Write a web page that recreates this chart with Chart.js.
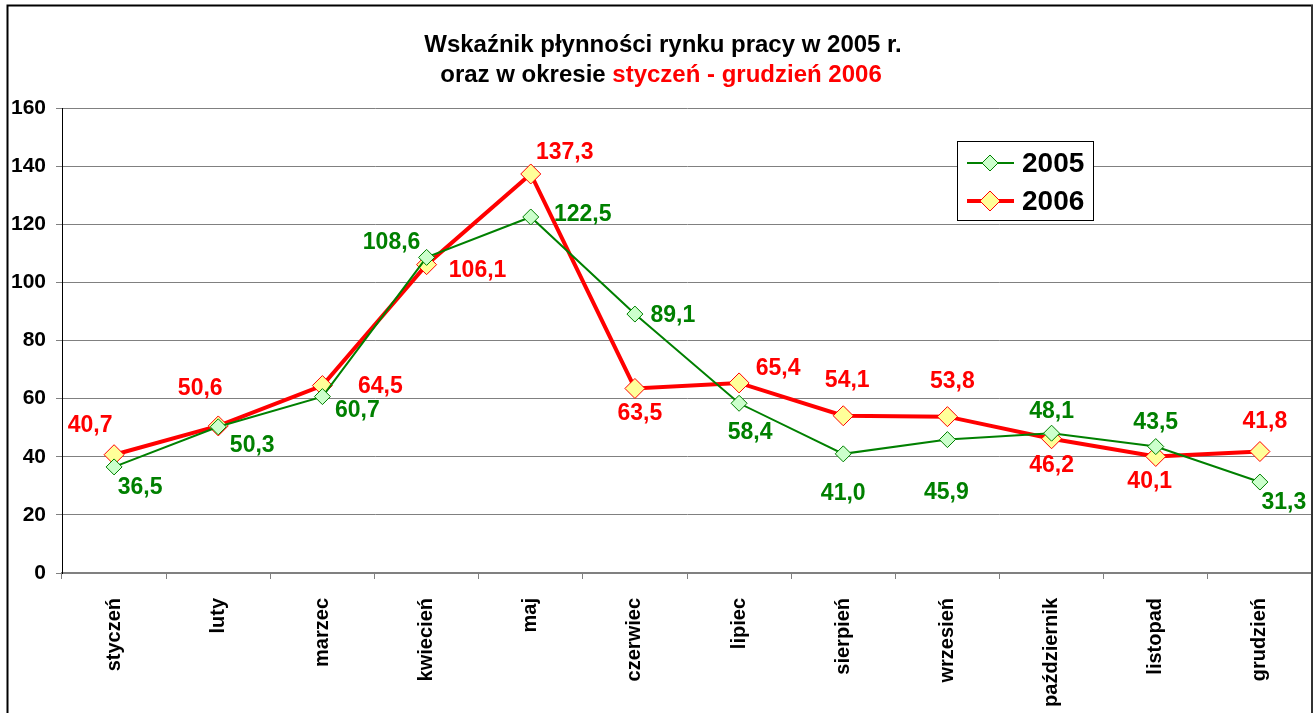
<!DOCTYPE html>
<html><head><meta charset="utf-8">
<script src="https://cdn.jsdelivr.net/npm/chart.js@4.4.0/dist/chart.umd.min.js"></script>
<style>html,body{margin:0;padding:0;background:#fff}#wrap{width:1314px;height:713px;position:relative}</style>
</head><body><div id="wrap"><canvas id="c" width="1314" height="713"></canvas></div>
<script>
const categories = ['styczeń','luty','marzec','kwiecień','maj','czerwiec','lipiec','sierpień','wrzesień','październik','listopad','grudzień'];
const values2005 = [36.5,50.3,60.7,108.6,122.5,89.1,58.4,41.0,45.9,48.1,43.5,31.3];
const values2006 = [40.7,50.6,64.5,106.1,137.3,63.5,65.4,54.1,53.8,46.2,40.1,41.8];
const yTicks = [0,20,40,60,80,100,120,140,160];
// label offsets (dx, dy) from the point, in px
const off2005 = [[26,21],[34,19],[35,14],[-35,-15],[52,-2],[38,2],[11,29],[0,40],[-1,53],[0,-22],[0,-24],[24,21]];
const off2006 = [[-24,-29],[-18,-37],[58,1],[51,6],[34,-21],[5,25],[39,-14],[4,-35],[5,-35],[0,27],[-6,25],[5,-30]];
const FONT = '"Liberation Sans", Arial, sans-serif';

const outer = {
  id:'outer',
  beforeDraw(ch){
    const c=ch.ctx; c.save();
    c.fillStyle='#fff'; c.fillRect(0,0,ch.width,ch.height);
    c.strokeStyle='#000'; c.lineWidth=2;
    c.beginPath(); c.moveTo(7.5,713); c.lineTo(7.5,5.5); c.lineTo(1313,5.5); c.stroke();
    c.restore();
  },
  afterDraw(ch){
    const c=ch.ctx; c.save();
    const xs=ch.scales.x;
    c.font='bold 20px '+FONT; c.fillStyle='#000'; c.textAlign='right'; c.textBaseline='middle';
    xs.ticks.forEach((t,i)=>{
      const px=xs.getPixelForTick(i);
      c.save(); c.translate(px, xs.top+25); c.rotate(-Math.PI/2);
      c.fillText(ch.data.labels[i],0,0); c.restore();
    });
    c.textBaseline='middle'; c.font='bold 24px '+FONT;
    const l1='Wskaźnik płynności rynku pracy w 2005 r.';
    c.fillStyle='#000'; c.textAlign='center'; c.fillText(l1,663,45);
    const a='oraz w okresie ', b='styczeń - grudzień 2006';
    const wa=c.measureText(a).width, wb=c.measureText(b).width;
    let x=661-(wa+wb)/2; c.textAlign='left';
    c.fillText(a,x,75); c.fillStyle='#FF0000'; c.fillText(b,x+wa,75);
    const lx=957, ly=141, lw=136, lh=79;
    c.fillStyle='#fff'; c.fillRect(lx,ly,lw,lh);
    c.strokeStyle='#000'; c.lineWidth=1; c.strokeRect(lx+0.5,ly+0.5,lw,lh);
    ch.data.datasets.forEach((ds,i)=>{
      const yy=ly+22+i*38;
      c.strokeStyle=ds.borderColor; c.lineWidth=ds.borderWidth;
      c.beginPath(); c.moveTo(lx+10,yy); c.lineTo(lx+57,yy); c.stroke();
      const r=ds.pointRadius, cx=lx+33;
      c.beginPath(); c.moveTo(cx,yy-r); c.lineTo(cx+r,yy); c.lineTo(cx,yy+r); c.lineTo(cx-r,yy); c.closePath();
      c.fillStyle=ds.pointBackgroundColor; c.fill(); c.strokeStyle=ds.pointBorderColor; c.lineWidth=1; c.stroke();
      c.fillStyle='#000'; c.font='bold 28px '+FONT; c.textAlign='left'; c.textBaseline='middle';
      c.fillText(ds.label,lx+65,yy+1);
    });
    c.strokeStyle='#333'; c.lineWidth=2; c.beginPath(); c.moveTo(1312,5); c.lineTo(1312,713); c.stroke();
    c.restore();
  }
};
const labels = {
  id:'labels',
  afterDatasetsDraw(ch){
    const c=ch.ctx; c.save(); c.font='bold 23px '+FONT; c.textAlign='center'; c.textBaseline='middle';
    ch.data.datasets.forEach((ds,i)=>{
      const meta=ch.getDatasetMeta(i); const offs=i===0?off2005:off2006;
      c.fillStyle=ds.labelColor;
      meta.data.forEach((p,j)=>{
        c.fillText(ds.data[j].toFixed(1).replace('.',','),p.x+offs[j][0],p.y+offs[j][1]);
      });
    });
    c.restore();
  }
};

new Chart(document.getElementById('c'),{
  type:'line',
  data:{labels:categories,datasets:[
    {label:'2005',data:values2005,borderColor:'#008000',borderWidth:2,pointStyle:'rectRot',pointRadius:8,pointHoverRadius:8,
     pointBackgroundColor:'#CCFFCC',pointBorderColor:'#008000',pointBorderWidth:1,labelColor:'#008000',tension:0},
    {label:'2006',data:values2006,borderColor:'#FF0000',borderWidth:4,pointStyle:'rectRot',pointRadius:10,pointHoverRadius:10,
     pointBackgroundColor:'#FFFF99',pointBorderColor:'#FF0000',pointBorderWidth:1,labelColor:'#FF0000',tension:0}
  ]},
  options:{
    responsive:false,animation:false,devicePixelRatio:1,
    layout:{autoPadding:false,padding:{top:108,left:8,right:2,bottom:0}},
    plugins:{legend:{display:false},tooltip:{enabled:false},title:{display:false}},
    scales:{
      x:{offset:true,
        grid:{offset:true,drawOnChartArea:false,drawTicks:true,tickLength:6,color:'#808080'},
        border:{color:'#808080',width:2},
        ticks:{display:false,autoSkip:false},
        afterFit(s){s.height=140;}
      },
      y:{min:0,max:160,
        afterBuildTicks(s){s.ticks=yTicks.map(v=>({value:v}));},
        grid:{color:'#808080',lineWidth:1,tickLength:6,drawTicks:true},
        border:{color:'#000',width:1},
        ticks:{color:'#000',font:{family:FONT,size:21,weight:'bold'},padding:10},
        afterFit(s){s.width=54;}
      }
    }
  },
  plugins:[outer,labels]
});
</script></body></html>
